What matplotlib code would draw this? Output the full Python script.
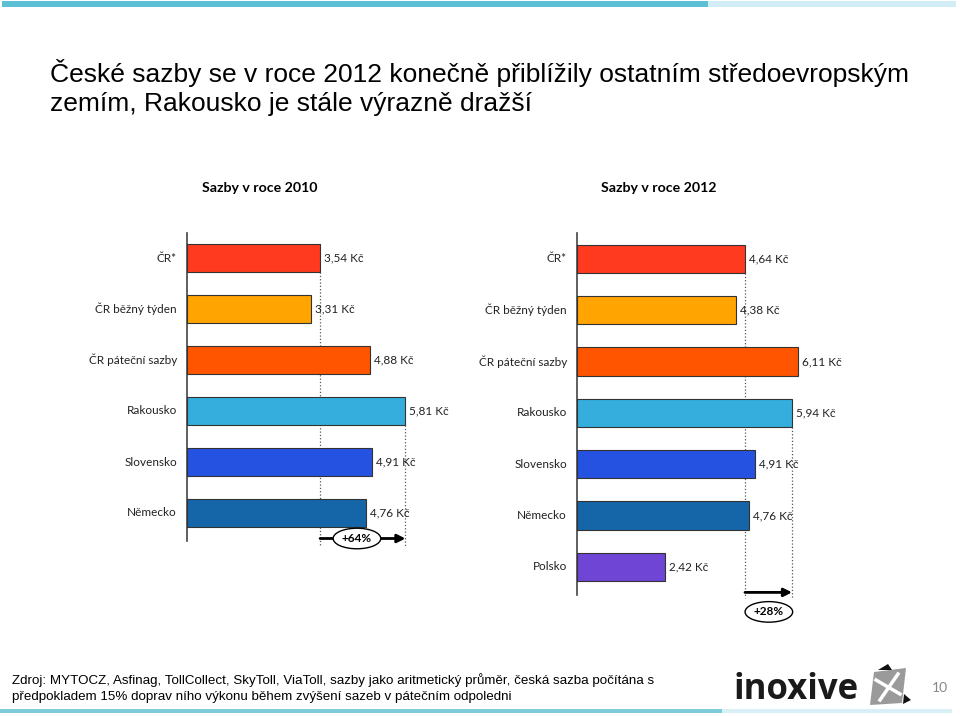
import numpy as np
import matplotlib.pyplot as plt
from matplotlib.patches import Rectangle, Polygon

# data
cats_2010 = ['ČR*', 'ČR běžný týden', 'ČR páteční sazby', 'Rakousko', 'Slovensko', 'Německo']
vals_2010 = [3.54, 3.31, 4.88, 5.81, 4.91, 4.76]
cats_2012 = ['ČR*', 'ČR běžný týden', 'ČR páteční sazby', 'Rakousko', 'Slovensko', 'Německo', 'Polsko']
vals_2012 = [4.64, 4.38, 6.11, 5.94, 4.91, 4.76, 2.42]
colors = {'ČR*': '#FF3A1E', 'ČR běžný týden': '#FFA400', 'ČR páteční sazby': '#FF5500',
          'Rakousko': '#35AEDD', 'Slovensko': '#2652E2', 'Německo': '#1565A9', 'Polsko': '#6F45D6'}

W, H = 960, 716
fig = plt.figure(figsize=(W / 100, H / 100), dpi=100)

LBL = ['Lato', 'DejaVu Sans']

# background layer in pixel coords
deco = fig.add_axes([0, 0, 1, 1])
deco.set_xlim(0, W)
deco.set_ylim(H, 0)
deco.axis('off')
deco.add_patch(Rectangle((2, 1), 706, 6, color='#5BC0D6', lw=0))
deco.add_patch(Rectangle((708, 1), 248, 6, color='#D2EDF5', lw=0))
deco.add_patch(Rectangle((0, 709), 722, 3.5, color='#7ECBDC', lw=0))
deco.add_patch(Rectangle((722, 709), 230, 3.5, color='#D8F0F5', lw=0))

deco.text(50, 73, 'České sazby se v roce 2012 konečně přiblížily ostatním středoevropským',
          fontsize=19, family='Liberation Sans', va='center', ha='left')
deco.text(50, 104, 'zemím, Rakousko je stále výrazně dražší',
          fontsize=19, family='Liberation Sans', va='center', ha='left')

deco.text(260, 188, 'Sazby v roce 2010', fontsize=10.2, weight='bold', family=LBL, ha='center', va='center')
deco.text(659, 188, 'Sazby v roce 2012', fontsize=10.2, weight='bold', family=LBL, ha='center', va='center')

foot = ['Liberation Sans Narrow', 'Liberation Sans']
deco.text(12, 680, 'Zdroj: MYTOCZ, Asfinag, TollCollect, SkyToll, ViaToll, sazby jako aritmetický průměr, česká sazba počítána s',
          fontsize=9.6, family=foot, va='center')
deco.text(12, 697, 'předpokladem 15% doprav ního výkonu během zvýšení sazeb v pátečním odpoledni',
          fontsize=9.6, family=foot, va='center')

# logo
deco.text(733, 690, 'inoxive', fontsize=25, weight='bold', family=['Open Sans', 'DejaVu Sans'],
          color='#1a1a1a', va='center', ha='left')
deco.add_patch(Polygon([(874, 672), (906, 668), (902, 703), (870, 705)], closed=True, color='#9a9a9a', lw=0))
deco.add_patch(Polygon([(878, 670), (888, 664), (892, 670)], closed=True, color='#111111', lw=0))
deco.add_patch(Polygon([(904, 694), (911, 700), (903, 704)], closed=True, color='#111111', lw=0))
deco.plot([880, 898], [700, 674], color='white', lw=2.5)
deco.plot([876, 900], [680, 694], color='white', lw=2.5)
deco.text(940, 688, '10', fontsize=10, color='#888888', family=LBL, ha='center', va='center')


def panel(left, top, scale, row_h, nrows, cats, vals):
    ymax = nrows - 0.5 + 0.05
    hpx = (ymax + 0.5) * row_h
    ax = fig.add_axes([left / W, 1 - (top + hpx) / H, 7 * scale / W, hpx / H])
    ax.set_xlim(0, 7)
    ax.set_ylim(ymax, -0.5)
    y = np.arange(len(vals))
    ax.barh(y, vals, height=0.55, color=[colors[c] for c in cats], edgecolor='#333333', lw=0.8, zorder=3)
    for i, (c, v) in enumerate(zip(cats, vals)):
        ax.annotate(c, (0, i), xytext=(-10, 0), textcoords='offset pixels', ha='right', va='center',
                    fontsize=8.5, family=LBL, color='#222222', annotation_clip=False)
        ax.annotate(f'{v:.2f}'.replace('.', ',') + ' Kč', (v, i), xytext=(4, 0), textcoords='offset pixels',
                    ha='left', va='center', fontsize=8.5, family=LBL, color='#222222', annotation_clip=False)
    for s in ['top', 'right', 'bottom']:
        ax.spines[s].set_visible(False)
    ax.spines['left'].set_color('#444444')
    ax.spines['left'].set_linewidth(1.2)
    ax.set_xticks([])
    ax.set_yticks([])
    ax.patch.set_alpha(0)
    return ax


# 2010 panel
ax1 = panel(187, 232.5, 37.6, 51, 6, cats_2010, vals_2010)
ax1.vlines(vals_2010[0], 0.28, 5.65, linestyles=':', color='#555555', lw=0.9, clip_on=False, zorder=2)
ax1.vlines(vals_2010[3], 3.28, 5.65, linestyles=':', color='#555555', lw=0.9, clip_on=False, zorder=2)
ax1.annotate('', xy=(vals_2010[3], 5.5), xytext=(vals_2010[0], 5.5),
             arrowprops=dict(arrowstyle='-|>', lw=2, color='black', shrinkA=0, shrinkB=0,
                             mutation_scale=12), annotation_clip=False)
ax1.text(4.52, 5.5, '+64%', fontsize=8.5, weight='bold', family=LBL, ha='center', va='center', zorder=5,
         bbox=dict(boxstyle='ellipse,pad=0.15', fc='white', ec='black', lw=1))

# 2012 panel
ax2 = panel(577, 233.3, 36.2, 51.3, 7, cats_2012, vals_2012)
ax2.vlines(vals_2012[0], 0.28, 6.6, linestyles=':', color='#555555', lw=0.9, clip_on=False, zorder=2)
ax2.vlines(vals_2012[3], 3.28, 6.6, linestyles=':', color='#555555', lw=0.9, clip_on=False, zorder=2)
ax2.annotate('', xy=(vals_2012[3], 6.5), xytext=(vals_2012[0], 6.5),
             arrowprops=dict(arrowstyle='-|>', lw=2, color='black', shrinkA=0, shrinkB=0,
                             mutation_scale=12), annotation_clip=False)
ax2.text(5.30, 6.88, '+28%', fontsize=8.5, weight='bold', family=LBL, ha='center', va='center', zorder=5,
         clip_on=False, bbox=dict(boxstyle='ellipse,pad=0.15', fc='white', ec='black', lw=1))

fig.savefig('out.png', dpi=100)
